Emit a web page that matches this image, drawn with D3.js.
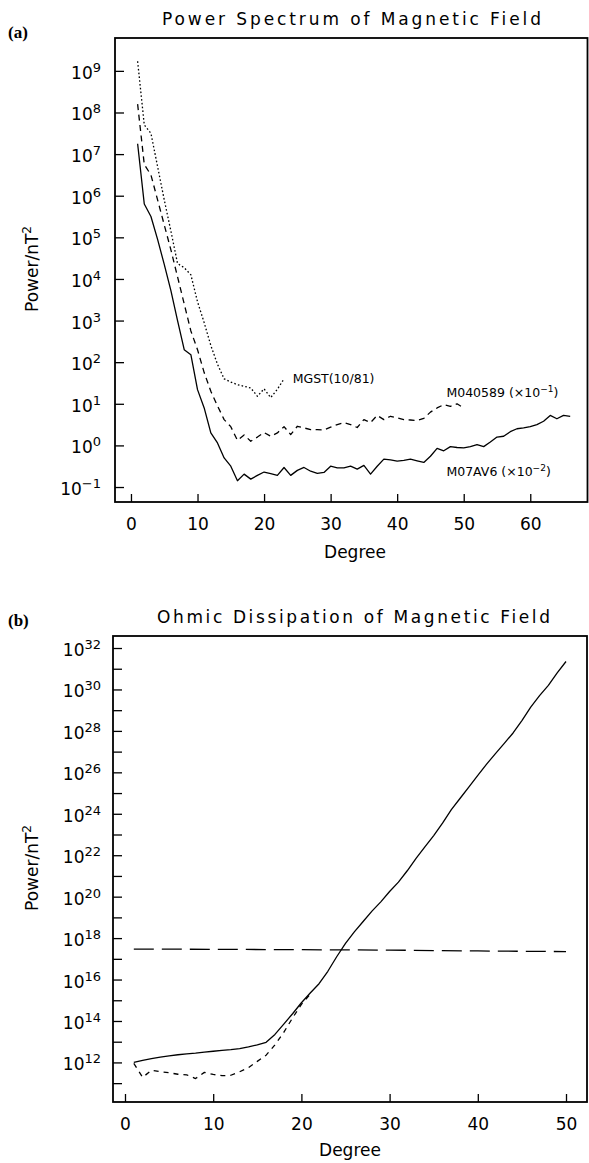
<!DOCTYPE html>
<html>
<head>
<meta charset="utf-8">
<script src="https://cdn.jsdelivr.net/npm/d3@7"></script>
<style>
    body { margin: 0; background: #fff; }
    svg text { font-family: "DejaVu Sans", sans-serif; fill: #000; }
</style>
</head>
<body>
<svg id="chart" width="589" height="1163"></svg>
<script>
// ---- data (values are log10 of power) ----
const spectrumTitle = 'Power Spectrum of Magnetic Field';
const ohmicTitle = 'Ohmic Dissipation of Magnetic Field';

const m07av6Degrees = d3.range(1, 67);
const m07av6Log = [7.25, 5.8, 5.5, 4.95, 4.35, 3.72, 3.0, 2.3, 2.18, 1.34,
    0.9, 0.3, 0.06, -0.3, -0.5, -0.85, -0.69, -0.81, -0.72, -0.64,
    -0.68, -0.72, -0.53, -0.72, -0.6, -0.53, -0.62, -0.67, -0.65, -0.5,
    -0.54, -0.54, -0.5, -0.57, -0.48, -0.69, -0.5, -0.33, -0.35, -0.38,
    -0.36, -0.33, -0.37, -0.41, -0.26, -0.07, -0.13, -0.03, -0.05, -0.06,
    -0.03, 0.02, -0.03, 0.08, 0.2, 0.22, 0.33, 0.4, 0.42, 0.45,
    0.5, 0.58, 0.72, 0.64, 0.72, 0.7];

const m040589Degrees = d3.range(1, 51);
const m040589Log = [8.2, 6.75, 6.5, 5.9, 5.3, 4.7, 4.05, 3.4, 2.75, 2.3,
    1.75, 1.3, 0.95, 0.62, 0.45, 0.12, 0.25, 0.1, 0.2, 0.31,
    0.22, 0.3, 0.45, 0.26, 0.46, 0.42, 0.38, 0.38, 0.37, 0.44,
    0.5, 0.55, 0.5, 0.43, 0.62, 0.55, 0.72, 0.62, 0.7, 0.66,
    0.62, 0.61, 0.6, 0.65, 0.8, 0.9, 0.98, 0.94, 1.0, 0.9];

const mgstDegrees = d3.range(1, 24);
const mgstLog = [9.23, 7.7, 7.5, 6.7, 5.9, 5.15, 4.37, 4.27, 4.1, 3.45,
    2.95, 2.4, 1.95, 1.6, 1.52, 1.46, 1.42, 1.38, 1.18, 1.36,
    1.15, 1.35, 1.6];

const ohmicDegrees = d3.range(1, 51);
const ohmicSolidLog = [12.0, 12.1, 12.18, 12.26, 12.32, 12.37, 12.41, 12.45, 12.5, 12.54,
    12.58, 12.62, 12.67, 12.75, 12.85, 12.97, 13.35, 13.85, 14.35, 14.88,
    15.35, 15.8, 16.4, 17.1, 17.75, 18.3, 18.8, 19.3, 19.75, 20.25,
    20.7, 21.25, 21.85, 22.4, 22.95, 23.55, 24.2, 24.75, 25.3, 25.85,
    26.4, 26.9, 27.4, 27.9, 28.5, 29.15, 29.7, 30.2, 30.8, 31.35];

const ohmicDashedDegrees = d3.range(1, 22);
const ohmicDashedLog = [11.95, 11.28, 11.62, 11.55, 11.5, 11.43, 11.4, 11.22, 11.52, 11.42,
    11.36, 11.38, 11.55, 11.75, 12.05, 12.35, 12.85, 13.45, 14.15, 14.8, 15.3];

const ohmicRefDegrees = [1, 10, 20, 30, 40, 50];
const ohmicRefLog = [17.47, 17.46, 17.44, 17.42, 17.38, 17.35];

// ticks
const spectrumXTicks = [0, 10, 20, 30, 40, 50, 60];
const spectrumYExps = d3.range(-1, 10);
const spectrumYLabelExps = d3.range(-1, 10);
const ohmicXTicks = [0, 10, 20, 30, 40, 50];
const ohmicYExps = d3.range(11, 33);
const ohmicYLabelExps = d3.range(12, 33, 2);

const svg = d3.select('#chart');

class LogPanel {
    constructor(config) {
        this.config = config;
        this.x = d3.scaleLinear().domain(config.xDomain).range([config.left, config.right]);
        this.y = d3.scaleLog().domain(config.yDomain).range([config.bottom, config.top]);
        this.g = svg.append('g');
    }

    drawFrame() {
        let c = this.config;
        this.g.append('rect')
            .attr('x', c.left).attr('y', c.top)
            .attr('width', c.right - c.left)
            .attr('height', c.bottom - c.top)
            .attr('fill', 'none')
            .attr('stroke', '#000')
            .attr('stroke-width', 1.8);

        // panel letter, bold serif like the journal figure
        this.g.append('text')
            .attr('x', 8).attr('y', c.letterY)
            .style('font-family', '"Liberation Serif", serif')
            .style('font-weight', 'bold')
            .style('font-size', '17px')
            .text(c.letter);

        this.g.append('text')
            .attr('x', c.titleX).attr('y', c.titleY)
            .attr('text-anchor', 'middle')
            .attr('textLength', c.titleLength)
            .attr('lengthAdjust', 'spacing')
            .style('font-size', '17px')
            .text(c.title);
    }

    drawAxes() {
        let c = this.config;

        let xAxis = d3.axisBottom(this.x)
            .tickValues(c.xTicks)
            .tickSize(-8)
            .tickPadding(16);
        let gx = this.g.append('g')
            .attr('transform', `translate(0,${c.bottom})`)
            .call(xAxis);
        gx.select('.domain').remove();
        gx.selectAll('line').attr('stroke-width', 1.3);
        gx.selectAll('text')
            .style('font-family', '"DejaVu Sans", sans-serif')
            .style('font-size', '17px');

        this.g.append('text')
            .attr('x', c.xLabelX).attr('y', c.xLabelY)
            .attr('text-anchor', 'middle')
            .style('font-size', '17px')
            .text('Degree');

        let yAxis = d3.axisLeft(this.y)
            .tickValues(c.yExps.map(e => Math.pow(10, e)))
            .tickSize(-9)
            .tickFormat('');
        let gy = this.g.append('g')
            .attr('transform', `translate(${c.left},0)`)
            .call(yAxis);
        gy.select('.domain').remove();
        gy.selectAll('line').attr('stroke-width', 1.3);

        // 10^n labels with superscripts
        c.yLabelExps.forEach(e => {
            let t = this.g.append('text')
                .attr('x', 101)
                .attr('y', this.y(Math.pow(10, e)) + 8)
                .attr('text-anchor', 'end');
            t.append('tspan').style('font-size', '17px').text('10');
            t.append('tspan').style('font-size', '13px').attr('dy', -7)
                .text(e < 0 ? '\u2212' + (-e) : e);
        });

        let yl = this.g.append('text')
            .attr('transform', `translate(38,${c.yLabelY}) rotate(-90)`)
            .attr('text-anchor', 'middle');
        yl.append('tspan').style('font-size', '17px').text('Power/nT');
        yl.append('tspan').style('font-size', '12px').attr('dy', -7).text('2');
    }

    drawLine(degrees, logs, dash, width) {
        let pts = degrees.map((d, i) => [d, logs[i]]);
        let line = d3.line()
            .x(p => this.x(p[0]))
            .y(p => this.y(Math.pow(10, p[1])));
        this.g.append('path')
            .datum(pts)
            .attr('d', line)
            .attr('fill', 'none')
            .attr('stroke', '#000')
            .attr('stroke-width', width || 1.3)
            .attr('stroke-dasharray', dash)
            .attr('stroke-linejoin', 'round');
    }

    curveLabel(text, deg, exp, sup, tail) {
        let t = this.g.append('text')
            .attr('x', this.x(deg))
            .attr('y', this.y(Math.pow(10, exp)))
            .style('font-size', '12.5px');
        t.append('tspan').text(text);
        if (sup) {
            t.append('tspan').style('font-size', '9px').attr('dy', -5).text(sup);
            t.append('tspan').attr('dy', 5).text(tail);
        }
    }
}

// ---- (a) power spectrum ----
let spectrum = new LogPanel({
    left: 115, right: 587.5, top: 38, bottom: 502,
    xDomain: [-2.4, 68.6],
    yDomain: [Math.pow(10, -1.36), Math.pow(10, 9.79)],
    xTicks: spectrumXTicks, yExps: spectrumYExps, yLabelExps: spectrumYLabelExps,
    letter: '(a)', letterY: 38,
    title: spectrumTitle, titleX: 351.5, titleY: 25, titleLength: 379,
    xLabelX: 355, xLabelY: 558, yLabelY: 269
});
spectrum.drawFrame();
spectrum.drawAxes();
spectrum.drawLine(mgstDegrees, mgstLog, '1.6,2.2');
spectrum.drawLine(m040589Degrees, m040589Log, '6,4.5');
spectrum.drawLine(m07av6Degrees, m07av6Log, null);
spectrum.curveLabel('MGST(10/81)', 24.3, 1.5);
spectrum.curveLabel('M040589 (\u00d710', 47.4, 1.17, '\u22121', ')');
spectrum.curveLabel('M07AV6 (\u00d710', 47.4, -0.74, '\u22122', ')');

// ---- (b) ohmic dissipation ----
let ohmic = new LogPanel({
    left: 113, right: 587, top: 636, bottom: 1102,
    xDomain: [-1.36, 52.38],
    yDomain: [Math.pow(10, 10.09), Math.pow(10, 32.58)],
    xTicks: ohmicXTicks, yExps: ohmicYExps, yLabelExps: ohmicYLabelExps,
    letter: '(b)', letterY: 626,
    title: ohmicTitle, titleX: 353.5, titleY: 623, titleLength: 393,
    xLabelX: 350, xLabelY: 1156, yLabelY: 868
});
ohmic.drawFrame();
ohmic.drawAxes();
ohmic.drawLine(ohmicRefDegrees, ohmicRefLog, '20,8');
ohmic.drawLine(ohmicDashedDegrees, ohmicDashedLog, '5,5');
ohmic.drawLine(ohmicDegrees, ohmicSolidLog, null);
</script>
</body>
</html>
